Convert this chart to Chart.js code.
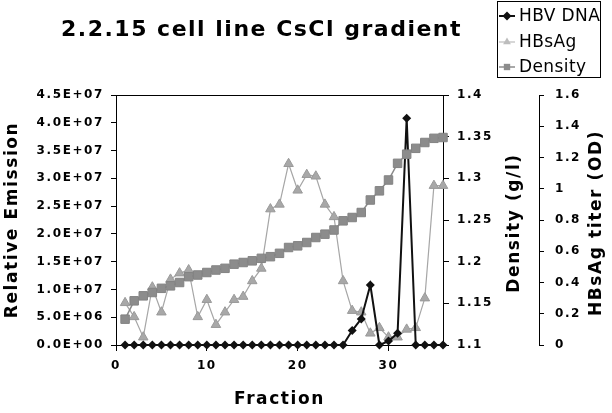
<!DOCTYPE html>
<html>
<head>
<meta charset="utf-8">
<script src="https://cdn.jsdelivr.net/npm/chart.js@4.4.1/dist/chart.umd.min.js"></script>
<style>
  html, body { margin: 0; padding: 0; background: #fff; }
  #wrap { width: 612px; height: 413px; }
</style>
</head>
<body>
<div id="wrap"><canvas id="chart" width="612" height="413"></canvas></div>
<script>
// data
const fractions = [1, 2, 3, 4, 5, 6, 7, 8, 9, 10, 11, 12, 13, 14, 15, 16, 17, 18,
  19, 20, 21, 22, 23, 24, 25, 26, 27, 28, 29, 30, 31, 32, 33, 34, 35, 36];
const hbvDna = [0, 0, 0, 0, 0, 0, 0, 0, 0, 0, 0, 0, 0, 0, 0, 0, 0, 0,
  0, 0, 0, 0, 0, 0, 0, 2.6e6, 4.7e6, 1.08e7, 0, 7e5, 2.1e6, 4.08e7, 0, 0, 0, 0];
const hbsAg = [0.27, 0.18, 0.05, 0.37, 0.21, 0.42, 0.46, 0.48, 0.18, 0.29, 0.13, 0.21,
  0.29, 0.31, 0.41, 0.49, 0.87, 0.90, 1.16, 0.99, 1.09, 1.08, 0.90, 0.82,
  0.41, 0.22, 0.21, 0.075, 0.11, 0.05, 0.05, 0.10, 0.11, 0.30, 1.02, 1.02];
const density = [1.131, 1.153, 1.159, 1.163, 1.168, 1.171, 1.175, 1.182, 1.184, 1.187, 1.190, 1.192,
  1.197, 1.199, 1.201, 1.204, 1.206, 1.210, 1.217, 1.219, 1.223, 1.229, 1.233, 1.238,
  1.249, 1.253, 1.259, 1.274, 1.285, 1.298, 1.318, 1.329, 1.336, 1.343, 1.348, 1.349];
const xTicks = [0, 10, 20, 30];

const toPts = vals => fractions.map((f, i) => ({ x: f, y: vals[i] }));

// 4.5E+07 style labels
function sci(v) {
  const [m, e] = Number(v).toExponential(1).split('e');
  const n = Math.abs(parseInt(e, 10));
  return m + 'E' + (e[0] === '-' ? '-' : '+') + (n < 10 ? '0' + n : n);
}
const plain = v => String(parseFloat(Number(v).toFixed(2)));

const bold12 = { family: 'DejaVu Sans', size: 12, weight: 'bold' };
const bold17 = { family: 'DejaVu Sans', size: 17, weight: 'bold' };

// the original uses a wide bold face, so space the letters out a bit
const spacing = {
  id: 'spacing',
  beforeUpdate(chart) { chart.ctx.letterSpacing = '1.6px'; },
  beforeDraw(chart) { chart.ctx.letterSpacing = '1.6px'; }
};

// top edge of plot frame
const frame = {
  id: 'frame',
  beforeDatasetsDraw(chart) {
    const { ctx, chartArea: a } = chart;
    ctx.save();
    ctx.strokeStyle = '#000';
    ctx.lineWidth = 1;
    ctx.beginPath();
    ctx.moveTo(a.left, a.top + 0.5);
    ctx.lineTo(a.right, a.top + 0.5);
    ctx.stroke();
    ctx.restore();
  }
};

function vtitle(ctx, text, x, y) {
  ctx.save();
  ctx.translate(x, y);
  ctx.rotate(-Math.PI / 2);
  ctx.textAlign = 'center';
  ctx.textBaseline = 'middle';
  ctx.fillText(text, 0, 0);
  ctx.restore();
}

const extras = {
  id: 'extras',
  afterDraw(chart) {
    const { ctx, chartArea: a, scales } = chart;
    ctx.save();
    ctx.fillStyle = '#000';
    // main title
    ctx.letterSpacing = '1.5px';
    ctx.font = 'bold 22px "DejaVu Sans"';
    ctx.textAlign = 'left';
    ctx.textBaseline = 'alphabetic';
    ctx.fillText('2.2.15 cell line CsCl gradient', 61, 36);
    // right axis titles read bottom to top
    ctx.letterSpacing = '1.6px';
    ctx.font = 'bold 17px "DejaVu Sans"';
    const cy = (a.top + a.bottom) / 2 + 3;
    vtitle(ctx, 'Density (g/l)', 515, cy);
    vtitle(ctx, 'HBsAg titer (OD)', 597, cy);
    // legend
    ctx.letterSpacing = '0.4px';
    ctx.strokeStyle = '#000';
    ctx.lineWidth = 1;
    ctx.strokeRect(497.5, 1.5, 103, 76);
    ctx.font = '17px "DejaVu Sans"';
    ctx.textAlign = 'left';
    ctx.textBaseline = 'middle';
    const rows = [16, 42, 67];
    chart.data.datasets.forEach((ds, i) => {
      const y = rows[i];
      ctx.strokeStyle = ds.legendColor;
      ctx.fillStyle = ds.legendColor;
      ctx.lineWidth = ds.borderWidth;
      ctx.beginPath();
      ctx.moveTo(499, y);
      ctx.lineTo(515, y);
      ctx.stroke();
      Chart.helpers.drawPoint(ctx, { pointStyle: ds.pointStyle, radius: 4.5, rotation: 0, borderWidth: 0 }, 507, y);
      ctx.fillStyle = '#000';
      ctx.fillText(ds.label, 519, y + 1);
    });
    ctx.restore();
  }
};

new Chart(document.getElementById('chart'), {
  type: 'line',
  data: {
    datasets: [
      {
        label: 'HBV DNA',
        data: toPts(hbvDna),
        yAxisID: 'y',
        borderColor: '#111',
        backgroundColor: '#111',
        legendColor: '#111',
        borderWidth: 2,
        pointStyle: 'rectRot',
        pointRadius: 4.5,
        pointBorderWidth: 0,
        order: 1,
        clip: false
      },
      {
        label: 'HBsAg',
        data: toPts(hbsAg),
        yAxisID: 'yHbs',
        borderColor: '#a6a6a6',
        backgroundColor: '#a8a8a8',
        pointBorderColor: '#999',
        legendColor: '#bdbdbd',
        borderWidth: 1.2,
        pointStyle: 'triangle',
        pointRadius: 5.5,
        pointBorderWidth: 1,
        order: 2,
        clip: false
      },
      {
        label: 'Density',
        data: toPts(density),
        yAxisID: 'yDen',
        borderColor: '#8a8a8a',
        backgroundColor: '#8c8c8c',
        pointBorderColor: '#838383',
        legendColor: '#8c8c8c',
        borderWidth: 1.5,
        pointStyle: 'rect',
        pointRadius: 6,
        pointBorderWidth: 1,
        order: 0,
        clip: false
      }
    ]
  },
  options: {
    responsive: false,
    animation: false,
    devicePixelRatio: 1,
    layout: { padding: { top: 95, left: 0, right: 0, bottom: 0 } },
    plugins: { legend: { display: false }, tooltip: { enabled: false } },
    scales: {
      x: {
        type: 'linear',
        min: 0,
        max: 36,
        afterBuildTicks: s => { s.ticks = xTicks.map(v => ({ value: v })); },
        afterFit: s => { s.height = 68; },
        ticks: { font: bold12, color: '#000', padding: 8, maxRotation: 0 },
        grid: { drawOnChartArea: false, tickLength: 6, color: '#000' },
        border: { color: '#000', width: 1 },
        title: { display: true, text: 'Fraction', font: bold17, color: '#000', padding: { top: 0, bottom: 3 } }
      },
      y: {
        position: 'left',
        min: 0,
        max: 4.5e7,
        afterFit: s => { s.width = 116; },
        ticks: { stepSize: 5e6, font: bold12, color: '#000', padding: 7, callback: sci },
        grid: { drawOnChartArea: false, tickLength: 5, color: '#000' },
        border: { color: '#000', width: 1 },
        title: { display: true, text: 'Relative Emission', font: bold17, color: '#000', padding: { top: 2, bottom: 0 } }
      },
      yDen: {
        position: 'right',
        weight: 1,
        min: 1.1,
        max: 1.4,
        afterFit: s => { s.width = 96; },
        ticks: { stepSize: 0.05, font: bold12, color: '#000', padding: 8, callback: plain },
        grid: { drawOnChartArea: false, tickLength: 6, color: '#000' },
        border: { color: '#000', width: 1 }
      },
      yHbs: {
        position: 'right',
        weight: 2,
        min: 0,
        max: 1.6,
        afterFit: s => { s.width = 73; },
        ticks: { stepSize: 0.2, font: bold12, color: '#000', padding: 11, callback: plain },
        grid: { drawOnChartArea: false, tickLength: 5, color: '#000' },
        border: { color: '#000', width: 1 }
      }
    }
  },
  plugins: [spacing, frame, extras]
});
</script>
</body>
</html>
